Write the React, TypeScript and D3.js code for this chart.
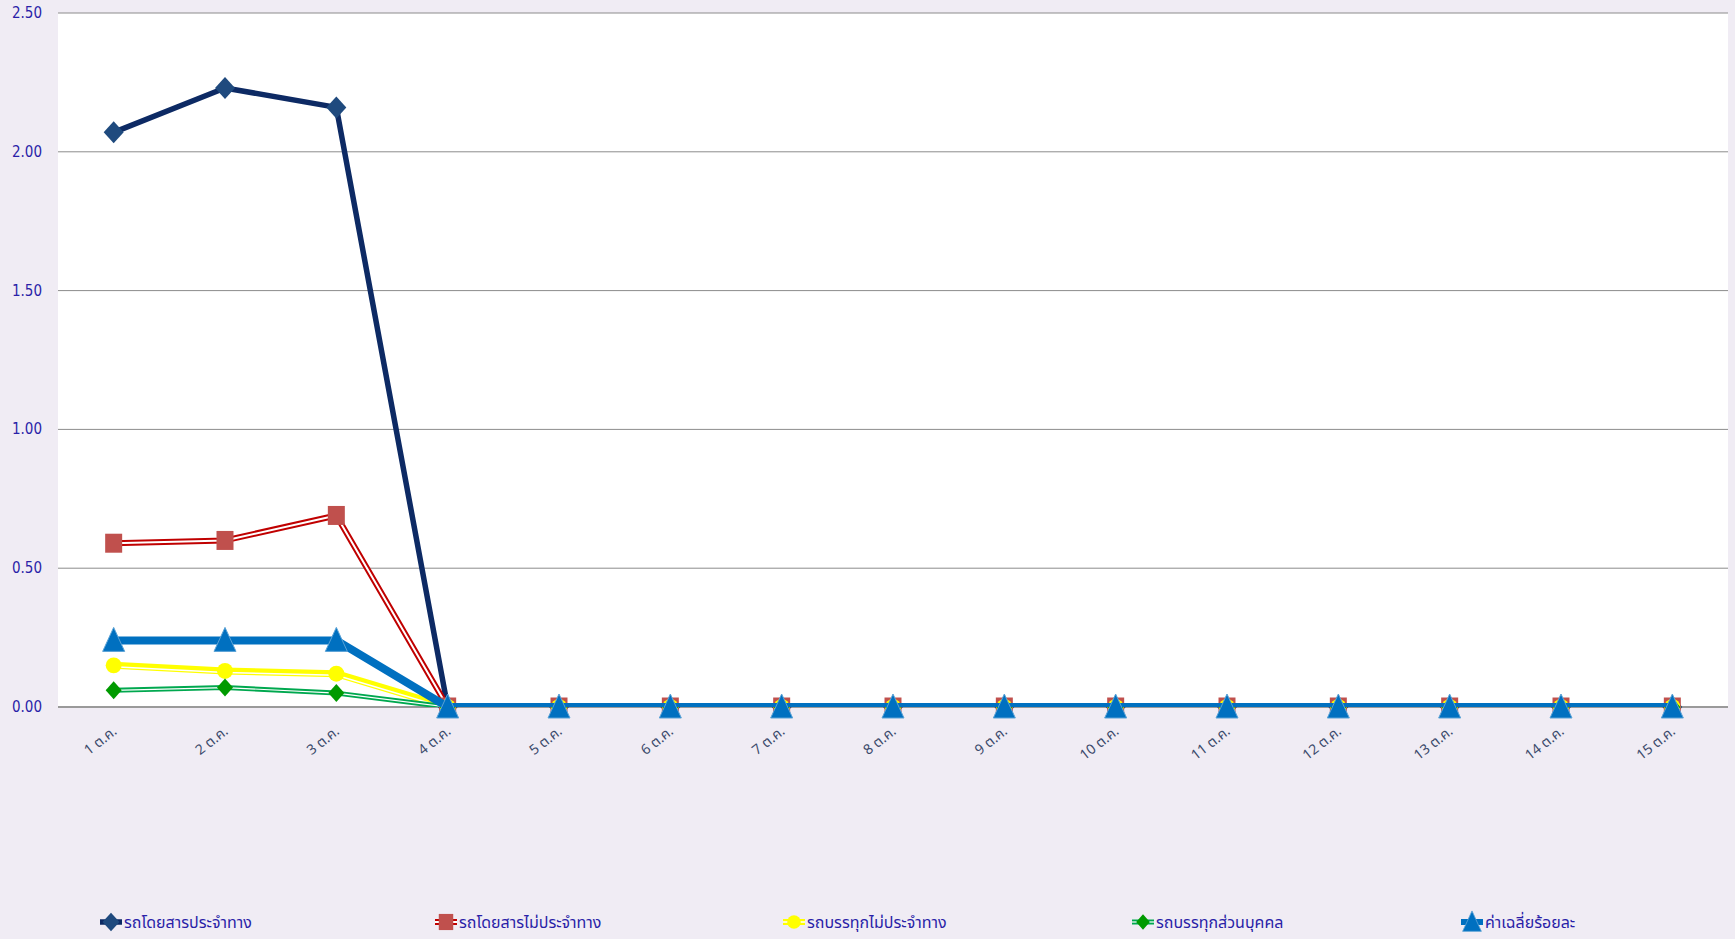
import React from "react";
import * as d3 from "d3";

const days = ["1 ต.ค.", "2 ต.ค.", "3 ต.ค.", "4 ต.ค.", "5 ต.ค.", "6 ต.ค.", "7 ต.ค.", "8 ต.ค.", "9 ต.ค.", "10 ต.ค.", "11 ต.ค.", "12 ต.ค.", "13 ต.ค.", "14 ต.ค.", "15 ต.ค."];
const yTicks = [0, 0.5, 1, 1.5, 2, 2.5];

const fixedRoute = [2.07, 2.23, 2.16, 0, 0, 0, 0, 0, 0, 0, 0, 0, 0, 0, 0];
const nonFixedRoute = [0.59, 0.6, 0.69, 0, 0, 0, 0, 0, 0, 0, 0, 0, 0, 0, 0];
const truckNonFixed = [0.15, 0.13, 0.12, 0, 0, 0, 0, 0, 0, 0, 0, 0, 0, 0, 0];
const truckPrivate = [0.06, 0.07, 0.05, 0, 0, 0, 0, 0, 0, 0, 0, 0, 0, 0, 0];
const averagePct = [0.24, 0.24, 0.24, 0, 0, 0, 0, 0, 0, 0, 0, 0, 0, 0, 0];

type Marker = "diamond" | "square" | "circle" | "triangle" | "smallDiamond";

interface Series {
  name: string;
  values: number[];
  line: string;
  width: number;
  inner?: string;
  innerWidth?: number;
  innerOffset?: number;
  marker: Marker;
  fill: string;
  stroke?: string;
}

const series: Series[] = [
  { name: "รถโดยสารประจำทาง", values: fixedRoute, line: "#0d2a64", width: 5.5, marker: "diamond", fill: "#1f4a7e" },
  { name: "รถโดยสารไม่ประจำทาง", values: nonFixedRoute, line: "#c00000", width: 6, inner: "#ffffff", innerWidth: 2, marker: "square", fill: "#c0504d" },
  { name: "รถบรรทุกไม่ประจำทาง", values: truckNonFixed, line: "#ffff00", width: 7, inner: "#ffffff", innerWidth: 1.5, innerOffset: 1.5, marker: "circle", fill: "#ffff00" },
  { name: "รถบรรทุกส่วนบุคคล", values: truckPrivate, line: "#00a84f", width: 5, inner: "#ffffff", innerWidth: 1.2, marker: "smallDiamond", fill: "#009a00" },
  { name: "ค่าเฉลี่ยร้อยละ", values: averagePct, line: "#0070c0", width: 8, marker: "triangle", fill: "#0070c0", stroke: "#5aa2d6" },
];

const W = 1735;
const H = 939;
const left = 58;
const right = 1728;
const top = 13;
const bottom = 707;

function markerPath(m: Marker): string {
  switch (m) {
    case "diamond":
      return "M0,-11 L10,0 L0,11 L-10,0 Z";
    case "smallDiamond":
      return "M0,-9 L8,0 L0,9 L-8,0 Z";
    case "square":
      return "M-8.5,-9.5 L8.5,-9.5 L8.5,9.5 L-8.5,9.5 Z";
    case "triangle":
      return "M0,-13 L11,11 L-11,11 Z";
    case "circle":
      return d3.symbol(d3.symbolCircle, 200)() || "";
  }
}

function MarkerShape({ s, x, y }: { s: Series; x: number; y: number }) {
  return (
    <path
      d={markerPath(s.marker)}
      transform={`translate(${x},${y})`}
      fill={s.fill}
      stroke={s.stroke || "none"}
      strokeWidth={1}
    />
  );
}

export default function App() {
  const x = d3.scalePoint<string>().domain(days).range([left, right]).padding(0.5);
  const y = d3.scaleLinear().domain([0, 2.5]).range([bottom, top]);
  const line = d3
    .line<number>()
    .x((_, i) => x(days[i]) as number)
    .y((d) => y(d));

  const legendX = [111, 446, 794, 1143, 1472];
  const legendY = 922;

  return (
    <svg
      width={W}
      height={H}
      style={{ position: "absolute", left: 0, top: 0, background: "#f0ecf4" }}
    >
      <defs>
        <clipPath id="plotClip">
          <rect x={left} y={top - 5} width={right - left} height={bottom - top + 5} />
        </clipPath>
      </defs>
      <rect x={0} y={0} width={W} height={H} fill="#f0ecf4" />
      <rect x={left} y={top} width={right - left} height={bottom - top} fill="#ffffff" />

      {yTicks.map((t) => (
        <g key={t}>
          <line
            x1={left}
            x2={right}
            y1={y(t)}
            y2={y(t)}
            stroke={t === 0 ? "#9a9a9a" : "#8c8c8c"}
            strokeWidth={t === 0 ? 2 : 1}
          />
          <text
            x={42}
            y={y(t) + 5}
            textAnchor="end"
            fontFamily="'Liberation Sans Narrow', 'DejaVu Sans Condensed', sans-serif"
            fontSize={15}
            fill="#2a1fa8"
          >
            {t.toFixed(2)}
          </text>
        </g>
      ))}

      {days.map((d) => (
        <text
          key={d}
          transform={`translate(${(x(d) as number) + 4},${733}) rotate(-38)`}
          textAnchor="end"
          fontFamily="'Noto Sans Thai', Tahoma, 'DejaVu Sans Condensed', sans-serif"
          fontSize={14}
          fill="#3b4a6b"
        >
          {d}
        </text>
      ))}

      {series.map((s) => (
        <g key={s.name}>
          <g clipPath="url(#plotClip)">
            <path d={line(s.values) || ""} fill="none" stroke={s.line} strokeWidth={s.width} strokeLinejoin="round" />
            {s.inner && (
              <path
                d={line(s.values) || ""}
                transform={`translate(0,${s.innerOffset || 0})`}
                fill="none"
                stroke={s.inner}
                strokeWidth={s.innerWidth}
                strokeLinejoin="round"
              />
            )}
          </g>
          {s.values.map((v, i) => (
            <MarkerShape key={i} s={s} x={x(days[i]) as number} y={y(v)} />
          ))}
        </g>
      ))}

      {series.map((s, i) => (
        <g key={s.name}>
          <line
            x1={legendX[i] - 11}
            x2={legendX[i] + 11}
            y1={legendY}
            y2={legendY}
            stroke={s.line}
            strokeWidth={Math.min(s.width, 6)}
          />
          {s.inner && (
            <line
              x1={legendX[i] - 11}
              x2={legendX[i] + 11}
              y1={legendY}
              y2={legendY}
              stroke={s.inner}
              strokeWidth={s.innerWidth}
            />
          )}
          <g transform={`translate(${legendX[i]},${legendY}) scale(0.85)`}>
            <path d={markerPath(s.marker)} fill={s.fill} stroke={s.stroke || "none"} />
          </g>
          <text
            x={legendX[i] + 13}
            y={legendY + 6}
            fontFamily="'Noto Sans Thai', Tahoma, 'DejaVu Sans Condensed', sans-serif"
            fontSize={16}
            fill="#2a1fa8"
          >
            {s.name}
          </text>
        </g>
      ))}
    </svg>
  );
}
